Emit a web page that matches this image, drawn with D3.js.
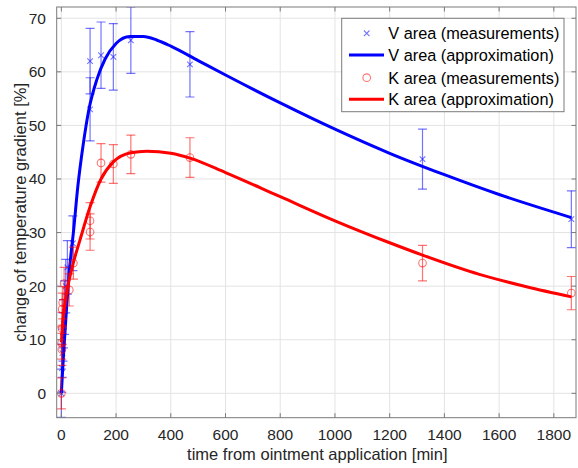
<!DOCTYPE html>
<html><head><meta charset="utf-8">
<script src="https://cdn.jsdelivr.net/npm/d3@7"></script>
<style>body{margin:0;background:#fff}svg{display:block}</style>
</head><body>
<script>
// ---- data ----
const xTicks = [0,200,400,600,800,1000,1200,1400,1600,1800];
const yTicks = [0,10,20,30,40,50,60,70];

const vTime = [0,2,4,6,8,12,16,22,42,105,105,145,190,254,470,1320,1864];
const vValue = [0,4.7,7.5,10.5,13,16,20,23.5,28,53,62,63.1,62.8,65.9,61.4,43.7,32.5];
const vError = [4.5,4.5,4.5,4.5,4.5,5,5,5,5.1,5.9,6.1,6.2,6.2,6.2,6.1,5.6,5.3];

const kTime = [0,1,2,2.5,3,5,10,29,44,105,105,145,190,254,470,1320,1864];
const kValue = [0,9.4,8.2,12.1,15.7,16.9,20.5,19.3,24.3,30.1,32.2,43.0,42.8,44.6,44.0,24.3,18.7];
const kError = [2.9,3,3,3,3,3,3,3,3,3.4,3.4,3.6,3.6,3.6,3.7,3.3,3.1];

const vFitTime = [0,5,10,20,30,45,60,80,100,130,160,200,250,300,350,400,500,600,800,1000,1200,1400,1600,1864];
const vFitValue = [0,4.6,8.9,16.7,23.3,30.5,38.5,46.5,52.8,58.6,62.4,65.3,66.6,66.6,65.9,64.8,62.1,59.4,54.2,49.3,44.8,40.8,37.1,32.8];

const kFitTime = [0,5,10,20,30,45,68,105,145,190,254,312,400,470,600,800,1000,1200,1320,1528,1700,1864];
const kFitValue = [9.5,13,15.5,19,21.5,24.6,28.6,34.8,40,43.2,44.9,45.2,44.8,43.9,41.2,36.7,32.2,28.1,25.8,22.2,19.9,18.0];

const legendLabels = ["V area (measurements)","V area (approximation)","K area (measurements)","K area (approximation)"];

// ---- drawing ----
const W = 578, H = 468;
const L = 56.7, R = 576, T = 7, B = 417.7;
const svg = d3.select("body").append("svg").attr("width", W).attr("height", H)
  .style("font-family", "'Liberation Sans', Arial, sans-serif");

const x = d3.scaleLinear().domain([-17, 1881]).range([L, R]);
const y = d3.scaleLinear().domain([-4.55, 72.1]).range([B, T]);

const axisCol = "#7a7a7a", textCol = "#262626";

// grid
const g = svg.append("g");
g.selectAll("line.gx").data(xTicks).join("line")
  .attr("x1", d => x(d)).attr("x2", d => x(d)).attr("y1", T).attr("y2", B)
  .attr("stroke", "#e3e3e3").attr("stroke-width", 1);
g.selectAll("line.gy").data(yTicks).join("line")
  .attr("y1", d => y(d)).attr("y2", d => y(d)).attr("x1", L).attr("x2", R)
  .attr("stroke", "#e3e3e3").attr("stroke-width", 1);

// clip
svg.append("clipPath").attr("id","clip").append("rect")
  .attr("x", L).attr("y", T).attr("width", R-L).attr("height", B-T);
const plot = svg.append("g").attr("clip-path","url(#clip)");

function drawSeries(times, vals, errs, color, marker) {
  const gg = plot.append("g").attr("stroke", color).attr("stroke-opacity", 0.55).attr("fill","none");
  const cap = 4.5;
  times.forEach((t,i) => {
    const cx = x(t), y1 = y(vals[i]-errs[i]), y2 = y(vals[i]+errs[i]);
    gg.append("line").attr("x1",cx).attr("x2",cx).attr("y1",y1).attr("y2",y2).attr("stroke-width",1.2);
    gg.append("line").attr("x1",cx-cap).attr("x2",cx+cap).attr("y1",y1).attr("y2",y1).attr("stroke-width",1.2);
    gg.append("line").attr("x1",cx-cap).attr("x2",cx+cap).attr("y1",y2).attr("y2",y2).attr("stroke-width",1.2);
    const cy = y(vals[i]);
    if (marker === "x") {
      const s = 2.8;
      gg.append("path").attr("d",`M${cx-s},${cy-s}L${cx+s},${cy+s}M${cx-s},${cy+s}L${cx+s},${cy-s}`).attr("stroke-width",1.1);
    } else {
      gg.append("circle").attr("cx",cx).attr("cy",cy).attr("r",3.8).attr("stroke-width",1.1);
    }
  });
}
function drawFit(times, vals, color) {
  const line = d3.line().x((d,i)=>x(times[i])).y((d,i)=>y(vals[i])).curve(d3.curveMonotoneX);
  plot.append("path").datum(vals).attr("d", line).attr("fill","none")
    .attr("stroke", color).attr("stroke-width", 3).attr("stroke-linejoin","round");
}
drawSeries(vTime, vValue, vError, "#0000ff", "x");
drawFit(vFitTime, vFitValue, "#0000ff");
drawSeries(kTime, kValue, kError, "#ff0000", "o");
drawFit(kFitTime, kFitValue, "#ff0000");

// axes box and ticks
const ax = svg.append("g").attr("stroke", axisCol).attr("stroke-width", 1);
ax.append("rect").attr("x",L).attr("y",T).attr("width",R-L).attr("height",B-T).attr("fill","none");
const tl = 4.5;
xTicks.forEach(d => {
  ax.append("line").attr("x1",x(d)).attr("x2",x(d)).attr("y1",B).attr("y2",B-tl);
  ax.append("line").attr("x1",x(d)).attr("x2",x(d)).attr("y1",T).attr("y2",T+tl);
});
yTicks.forEach(d => {
  ax.append("line").attr("y1",y(d)).attr("y2",y(d)).attr("x1",L).attr("x2",L+tl);
  ax.append("line").attr("y1",y(d)).attr("y2",y(d)).attr("x1",R).attr("x2",R-tl);
});
svg.append("g").selectAll("text").data(xTicks).join("text")
  .attr("x", d => x(d)).attr("y", 440).attr("text-anchor","middle")
  .attr("font-size", 15.5).attr("fill", textCol).text(d => d);
svg.append("g").selectAll("text").data(yTicks).join("text")
  .attr("x", 46).attr("y", d => y(d) + 5.5).attr("text-anchor","end")
  .attr("font-size", 15.5).attr("fill", textCol).text(d => d);

svg.append("text").attr("x", (L+R)/2 + 1).attr("y", 459.5).attr("text-anchor","middle")
  .attr("font-size", 16.5).attr("fill", textCol).text("time from ointment application [min]");
svg.append("text").attr("transform", `translate(25.5,${(T+B)/2}) rotate(-90)`).attr("text-anchor","middle")
  .attr("font-size", 16.5).attr("fill", textCol).text("change of temperature gradient [%]");

// legend
const lg = svg.append("g");
lg.append("rect").attr("x",341.7).attr("y",18.3).attr("width",564-341.7).attr("height",111.7-18.3)
  .attr("fill","#fff").attr("stroke", axisCol);
const rows = [33.3, 55, 77.7, 99.3];
const cols = ["#0000ff","#0000ff","#ff0000","#ff0000"];
legendLabels.forEach((lab,i) => {
  const cy = rows[i];
  if (i === 0) {
    const s = 2.8, cx = 366.7;
    lg.append("path").attr("d",`M${cx-s},${cy-s}L${cx+s},${cy+s}M${cx-s},${cy+s}L${cx+s},${cy-s}`)
      .attr("stroke", cols[i]).attr("stroke-opacity",0.55).attr("stroke-width",1.1);
  } else if (i === 2) {
    lg.append("circle").attr("cx",366.7).attr("cy",cy).attr("r",3.8).attr("fill","none")
      .attr("stroke", cols[i]).attr("stroke-opacity",0.55).attr("stroke-width",1.1);
  } else {
    lg.append("line").attr("x1",349).attr("x2",384).attr("y1",cy).attr("y2",cy)
      .attr("stroke", cols[i]).attr("stroke-width",3);
  }
  lg.append("text").attr("x",388.3).attr("y",cy+5.8).attr("font-size",16.3).attr("fill","#000").text(lab);
});
</script>
</body></html>
